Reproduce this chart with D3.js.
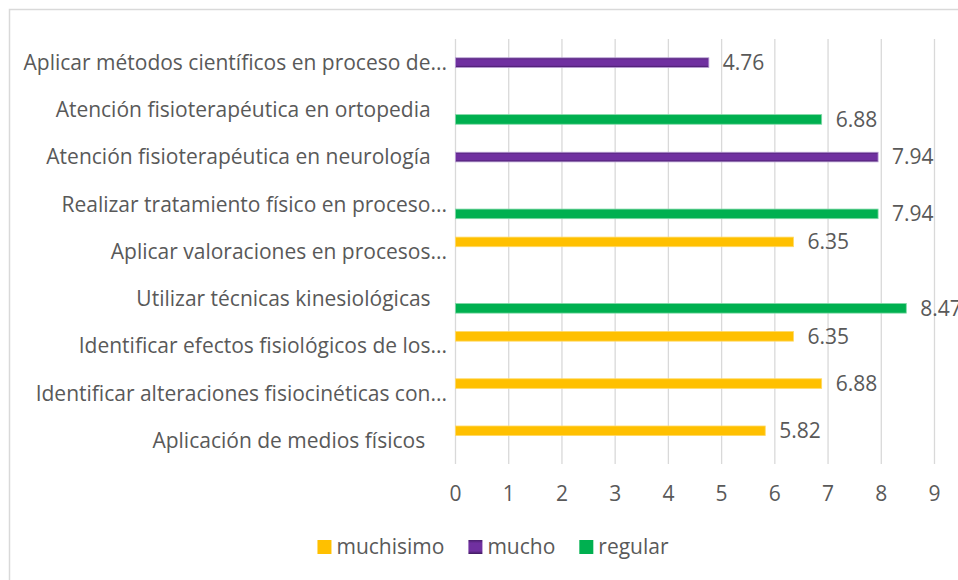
<!DOCTYPE html>
<html>
<head>
<meta charset="utf-8">
<script src="https://cdn.jsdelivr.net/npm/d3@7"></script>
<style>
  body { margin: 0; background: #fff; }
  text { font-family: "Open Sans", sans-serif; fill: #595959; white-space: pre; }
</style>
</head>
<body>
<div id="chart-area"></div>
<script>
// categories, top to bottom (trailing spaces come from the source sheet)
var categories = [
	"Aplicar métodos científicos en proceso de...",
	"Atención fisioterapéutica en ortopedia   ",
	"Atención fisioterapéutica en neurología   ",
	"Realizar tratamiento físico en proceso...",
	"Aplicar valoraciones en procesos...",
	"Utilizar técnicas kinesiológicas   ",
	"Identificar efectos fisiológicos de los...",
	"Identificar alteraciones fisiocinéticas con...",
	"Aplicación de medios físicos    "
];
var seriesNames = ["muchisimo", "mucho", "regular"];
var muchisimo = [null, null, null, null, 6.35, null, 6.35, 6.88, 5.82];
var mucho     = [4.76, null, 7.94, null, null, null, null, null, null];
var regular   = [null, 6.88, null, 7.94, null, 8.47, null, null, null];
var xTicks = [0, 1, 2, 3, 4, 5, 6, 7, 8, 9];

var colors = {muchisimo: "#FFC000", mucho: "#7030A0", regular: "#00B050"};

var width = 958, height = 580;
var plot = {left: 455.5, right: 934.5, top: 39, bottom: 464};
var fontSize = "21px";

var svg = d3.select("#chart-area")
.append("svg")
	.attr("width", width)
	.attr("height", height);

// purple bars have a bevelled look
var defs = svg.append("defs");
var grad = defs.append("linearGradient")
	.attr("id", "bevel")
	.attr("x1", 0).attr("y1", 0).attr("x2", 0).attr("y2", 1);
grad.append("stop").attr("offset", "0%").attr("stop-color", "#4a1f6e");
grad.append("stop").attr("offset", "22%").attr("stop-color", "#7030A0");
grad.append("stop").attr("offset", "78%").attr("stop-color", "#7030A0");
grad.append("stop").attr("offset", "100%").attr("stop-color", "#3f1a5e");

// chart frame
svg.append("rect")
	.attr("x", 9.5)
	.attr("y", 9.5)
	.attr("width", 1000)
	.attr("height", 700)
	.attr("fill", "none")
	.attr("stroke", "#d9d9d9")
	.attr("stroke-width", 1.5);

var x = d3.scaleLinear()
	.domain([0, 9])
	.range([plot.left, plot.right]);

var y0 = d3.scaleBand()
	.domain(categories)
	.range([plot.top, plot.bottom]);

var y1 = d3.scaleBand()
	.domain(seriesNames)
	.range([0, y0.bandwidth()])
	.paddingInner(0)
	.paddingOuter(0.96);

// gridlines
svg.append("g")
	.selectAll("line")
	.data(xTicks)
	.enter()
	.append("line")
		.attr("x1", function(d){ return x(d); })
		.attr("x2", function(d){ return x(d); })
		.attr("y1", plot.top)
		.attr("y2", plot.bottom)
		.attr("stroke", "#d9d9d9")
		.attr("stroke-width", 1.3);

// x tick labels
svg.append("g")
	.selectAll("text")
	.data(xTicks)
	.enter()
	.append("text")
		.attr("x", function(d){ return x(d); })
		.attr("y", 494)
		.attr("dy", "0.35em")
		.attr("text-anchor", "middle")
		.attr("font-size", fontSize)
		.text(function(d){ return d; });

// category labels
svg.append("g")
	.selectAll("text")
	.data(categories)
	.enter()
	.append("text")
		.attr("x", 447)
		.attr("y", function(d){ return y0(d) + y0.bandwidth() / 2; })
		.attr("dy", "0.35em")
		.attr("text-anchor", "end")
		.attr("font-size", fontSize)
		.text(function(d){ return d; });

// flatten series into bars
var seriesValues = {muchisimo: muchisimo, mucho: mucho, regular: regular};
var bars = [];
seriesNames.forEach(function(s){
	seriesValues[s].forEach(function(v, i){
		if (v != null) bars.push({series: s, category: categories[i], value: v});
	});
});

var barG = svg.append("g");
barG.selectAll("rect")
	.data(bars)
	.enter()
	.append("rect")
		.attr("x", x(0))
		.attr("y", function(d){ return y0(d.category) + y1(d.series); })
		.attr("width", function(d){ return x(d.value) - x(0); })
		.attr("height", y1.bandwidth())
		.attr("fill", function(d){ return d.series == "mucho" ? "url(#bevel)" : colors[d.series]; })
		.attr("stroke", function(d){
			if (d.series == "mucho") return "#b89ad6";
			if (d.series == "regular") return "#7fd8a6";
			return "#ffd966";
		})
		.attr("stroke-width", 0.8);

// value labels
barG.selectAll("text")
	.data(bars)
	.enter()
	.append("text")
		.attr("x", function(d){ return x(d.value) + 14; })
		.attr("y", function(d){ return y0(d.category) + y1(d.series) + y1.bandwidth() / 2; })
		.attr("dy", "0.35em")
		.attr("font-size", fontSize)
		.text(function(d){ return d3.format(".2f")(d.value); });

// legend
var legend = svg.append("g");
var items = legend.selectAll("g")
	.data(seriesNames)
	.enter()
	.append("g");

items.append("rect")
	.attr("width", 14)
	.attr("height", 14)
	.attr("y", 540)
	.attr("fill", function(d){ return d == "mucho" ? "url(#bevel)" : colors[d]; });

items.append("text")
	.attr("x", 19)
	.attr("y", 547)
	.attr("dy", "0.35em")
	.attr("font-size", fontSize)
	.text(function(d){ return d; });

var offsets = [];
var total = 0;
items.each(function(d, i){
	var w = 19 + d3.select(this).select("text").node().getComputedTextLength();
	offsets.push(total);
	total += w + (i < seriesNames.length - 1 ? 24 : 0);
});
var legendStart = 493 - total / 2;
items.attr("transform", function(d, i){ return "translate(" + (legendStart + offsets[i]) + ",0)"; });
</script>
</body>
</html>
